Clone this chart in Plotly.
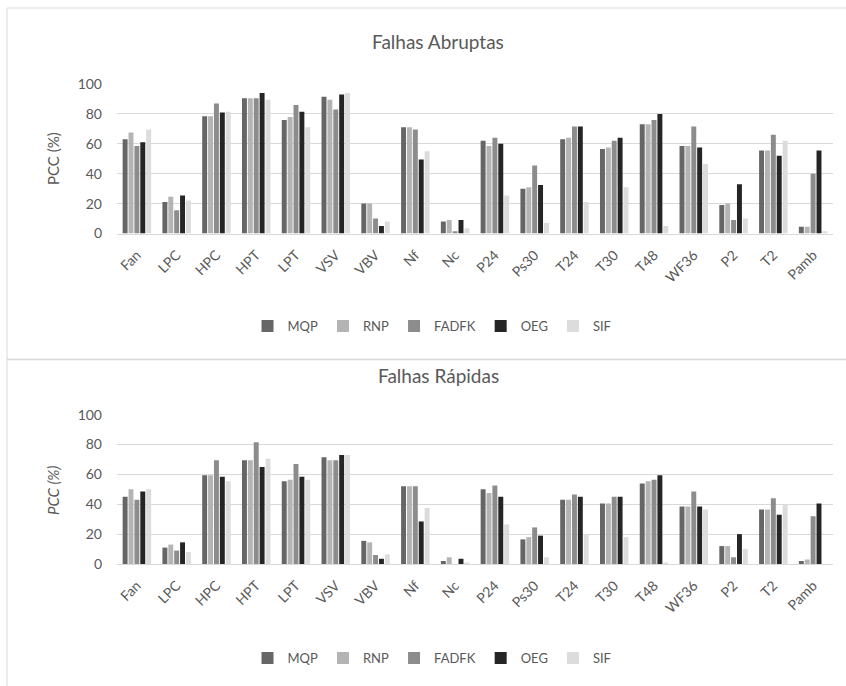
import plotly.graph_objects as go

categories = ["Fan", "LPC", "HPC", "HPT", "LPT", "VSV", "VBV", "Nf", "Nc", "P24",
              "Ps30", "T24", "T30", "T48", "WF36", "P2", "T2", "Pamb"]
series_names = ["MQP", "RNP", "FADFK", "OEG", "SIF"]
y_ticks = [0, 20, 40, 60, 80, 100]

# Falhas Abruptas
abr_mqp = [63, 21, 78.5, 90.5, 76, 91.5, 20, 71, 8, 62, 30, 63, 56.5, 73, 58.5, 19, 55.5, 4.5]
abr_rnp = [67.5, 24.5, 78.5, 90.5, 78, 89.5, 20, 71, 9, 58.5, 31, 64, 57.5, 73, 58.5, 20, 55.5, 4.5]
abr_fadfk = [58.5, 15.5, 87, 90.5, 86, 83, 10, 69.5, 1.5, 64, 45.5, 71.5, 62, 76, 71.5, 9, 66, 40]
abr_oeg = [61, 25.5, 81, 94, 81.5, 93, 5, 49.5, 9, 60, 32.5, 71.5, 64, 80, 57.5, 33, 52, 55.5]
abr_sif = [69.5, 22, 81.5, 89.5, 71, 94, 8, 55, 3.5, 25.5, 7, 21, 31, 5, 46.5, 10, 62, 1.5]

# Falhas Rápidas
rap_mqp = [45, 11, 59.5, 69.5, 55.5, 71.5, 15.5, 52, 2, 50, 16.5, 43, 40.5, 54, 38.5, 12, 36.5, 2]
rap_rnp = [50, 13, 59.5, 69.5, 56.5, 69.5, 14.5, 52, 4.5, 47.5, 18, 43, 40.5, 55.5, 38.5, 12, 36.5, 3]
rap_fadfk = [43, 9, 69.5, 81.5, 67, 69.5, 6, 52, 0, 52.5, 24.5, 46.5, 45, 56.5, 48.5, 4.5, 44, 32]
rap_oeg = [48.5, 14.5, 58.5, 65, 58.5, 73, 3.5, 28.5, 3.5, 45, 19, 45, 45, 59.5, 38.5, 20, 33, 40.5]
rap_sif = [50, 8, 55.5, 70.5, 56.5, 73, 6.5, 37.5, 1, 26.5, 4.5, 20, 18, 1, 36.5, 10, 40, 0]

colors = ["#666666", "#b4b4b4", "#8c8c8c", "#252525", "#dcdcdc"]

W, H = 846, 686
FONT = "Lato, 'Open Sans', sans-serif"
TXT = "#595959"
GRID = "#d9d9d9"

def py(p):
    return 1 - p / H

def px(p):
    return p / W

fig = go.Figure()
top = [abr_mqp, abr_rnp, abr_fadfk, abr_oeg, abr_sif]
bot = [rap_mqp, rap_rnp, rap_fadfk, rap_oeg, rap_sif]
for name, vals, c in zip(series_names, top, colors):
    fig.add_trace(go.Bar(x=categories, y=vals, name=name, marker_color=c,
                         marker_line_width=0, xaxis="x", yaxis="y", legend="legend"))
for name, vals, c in zip(series_names, bot, colors):
    fig.add_trace(go.Bar(x=categories, y=vals, name=name, marker_color=c,
                         marker_line_width=0, xaxis="x2", yaxis="y2", legend="legend2"))

xdom = [px(117), px(833)]
common_x = dict(domain=xdom, type="category", tickangle=-45, showgrid=False,
                showline=True, linecolor=GRID, linewidth=1, ticks="", automargin=False,
                tickfont=dict(family=FONT, size=14, color=TXT), ticklabelstandoff=7,
                fixedrange=True)
common_y = dict(range=[0, 100], tickvals=y_ticks, showgrid=True, gridcolor=GRID,
                gridwidth=1, zeroline=False, showline=False, ticks="", automargin=False,
                tickfont=dict(family=FONT, size=14, color=TXT), ticklabelstandoff=14)

leg_common = dict(orientation="h", xanchor="center", yanchor="middle",
                  font=dict(family=FONT, size=13, color=TXT), itemwidth=30,
                  bgcolor="rgba(0,0,0,0)", tracegroupgap=0)

fig.update_layout(
    width=W, height=H,
    margin=dict(l=0, r=0, t=0, b=0, autoexpand=False),
    paper_bgcolor="white", plot_bgcolor="white",
    barmode="group", bargap=0.26, bargroupgap=0.16,
    font=dict(family=FONT, color=TXT),
    xaxis=dict(anchor="y", **common_x),
    yaxis=dict(domain=[py(233.5), py(84)], anchor="x", **common_y),
    xaxis2=dict(anchor="y2", **common_x),
    yaxis2=dict(domain=[py(564), py(414.7)], anchor="x2", **common_y),
    legend=dict(x=px(432), y=py(326), **leg_common),
    legend2=dict(x=px(432), y=py(658), **leg_common),
    shapes=[
        dict(type="rect", xref="paper", yref="paper", x0=px(7), x1=px(860),
             y0=py(700), y1=py(8), line=dict(color="#d9d9d9", width=1)),
        dict(type="line", xref="paper", yref="paper", x0=px(7), x1=px(860),
             y0=py(359.5), y1=py(359.5), line=dict(color="#d9d9d9", width=1.5)),
    ],
    annotations=[
        dict(text="Falhas Abruptas", x=px(438), y=py(42), xref="paper", yref="paper",
             showarrow=False, xanchor="center", yanchor="middle",
             font=dict(family=FONT, size=19, color=TXT)),
        dict(text="Falhas Rápidas", x=px(438), y=py(376), xref="paper", yref="paper",
             showarrow=False, xanchor="center", yanchor="middle",
             font=dict(family=FONT, size=19, color=TXT)),
        dict(text="PCC (%)", x=px(53), y=py(158), xref="paper", yref="paper",
             showarrow=False, textangle=-90, xanchor="center", yanchor="middle",
             font=dict(family=FONT, size=15, color=TXT)),
        dict(text="PCC (%)", x=px(53), y=py(490), xref="paper", yref="paper",
             showarrow=False, textangle=-90, xanchor="center", yanchor="middle",
             font=dict(family=FONT, size=15, color=TXT, style="italic")),
    ],
)

fig.write_html(
    "out.html",
    config={"displayModeBar": False},
    post_script="document.documentElement.style.margin='0';document.body.style.margin='0';",
)
